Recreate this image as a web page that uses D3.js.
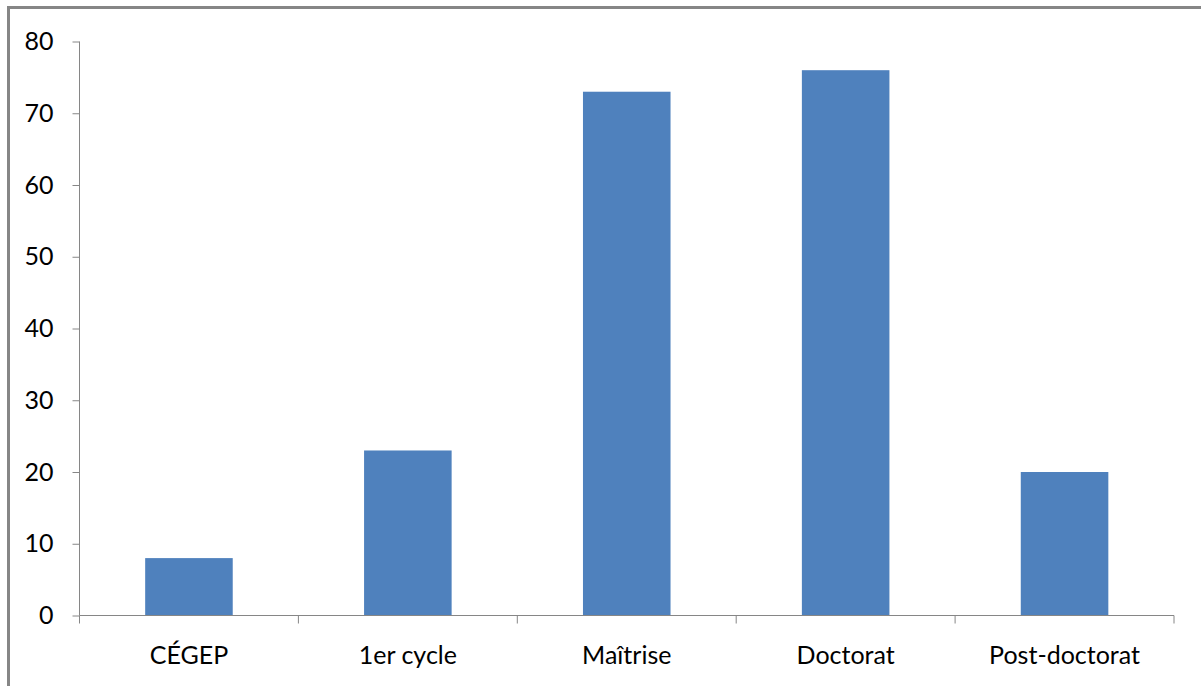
<!DOCTYPE html>
<html><head><meta charset="utf-8">
<script src="https://cdn.jsdelivr.net/npm/d3@7"></script>
<style>html,body{margin:0;padding:0;background:#fff;}svg{display:block;}</style>
</head><body>
<script>
const categories = ["CÉGEP", "1er cycle", "Maîtrise", "Doctorat", "Post-doctorat"];
const values = [8, 23, 73, 76, 20];
const yTicks = [0, 10, 20, 30, 40, 50, 60, 70, 80];

const W = 1201, H = 686;
const svg = d3.select("body").append("svg").attr("width", W).attr("height", H);
const font = "Lato, 'Open Sans', sans-serif";

// frame (top & left)
svg.append("line").attr("x1", 8).attr("x2", W).attr("y1", 7.5).attr("y2", 7.5).attr("stroke", "#868686").attr("stroke-width", 3);
svg.append("line").attr("x1", 8.5).attr("x2", 8.5).attr("y1", 6).attr("y2", H).attr("stroke", "#868686").attr("stroke-width", 3);

const pLeft = 79.5, pRight = 1174, pTop = 41.5, pBottom = 615.5;
const x = d3.scaleBand().domain(categories).range([pLeft, pRight]).paddingInner(0.6).paddingOuter(0.3);
const y = d3.scaleLinear().domain([0, 80]).range([pBottom, pTop]);

svg.selectAll("rect.bar").data(values).enter().append("rect")
  .attr("class", "bar")
  .attr("x", (d, i) => x(categories[i]))
  .attr("width", x.bandwidth())
  .attr("y", d => y(d))
  .attr("height", d => y(0) - y(d))
  .attr("fill", "#4F81BD");

// y axis
const yAxis = d3.axisLeft(y).tickValues(yTicks).tickSize(7).tickPadding(19);
const gy = svg.append("g").attr("transform", `translate(${pLeft},0)`).call(yAxis);
gy.select(".domain").attr("stroke", "#868686").attr("d", `M0,${pTop}V${pBottom}`);
gy.selectAll(".tick line").attr("stroke", "#868686");
gy.selectAll(".tick text").attr("font-family", font).attr("font-size", 25).attr("fill", "#000");

// x axis
const gx = svg.append("g").attr("transform", `translate(0,${pBottom})`);
gx.append("line").attr("x1", pLeft).attr("x2", pRight).attr("stroke", "#868686");
const step = (pRight - pLeft) / categories.length;
const bounds = d3.range(categories.length + 1).map(i => pLeft + i * step);
gx.selectAll("line.tk").data(bounds).enter().append("line").attr("class", "tk")
  .attr("x1", d => d).attr("x2", d => d).attr("y1", 0).attr("y2", 8).attr("stroke", "#868686");
gx.selectAll("text").data(categories).enter().append("text")
  .attr("x", d => x(d) + x.bandwidth() / 2).attr("y", 48)
  .attr("text-anchor", "middle").attr("font-family", font).attr("font-size", 25).attr("fill", "#000")
  .text(d => d);
</script>
</body></html>
